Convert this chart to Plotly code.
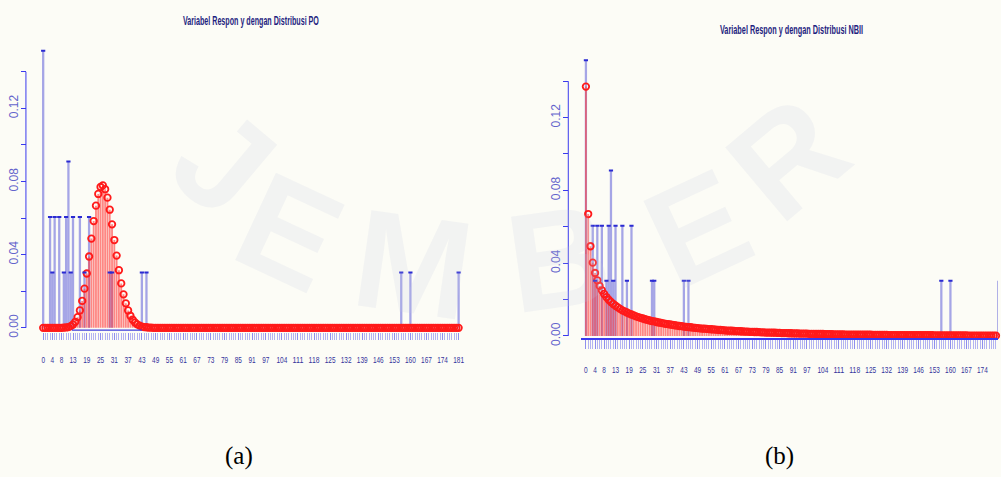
import plotly.graph_objects as go

# Support of the response variable y (counts 0..181)
support = list(range(0, 182))

# Observed relative frequencies (n = 33)
obs_values = [0, 3, 4, 5, 7, 9, 10, 11, 12, 13, 16, 18, 20, 29, 30, 43, 45, 156, 160, 181]
obs_prop = [0.1515, 0.0606, 0.0303, 0.0606, 0.0606, 0.0303, 0.0606, 0.0909, 0.0303, 0.0606,
            0.0606, 0.0303, 0.0606, 0.0303, 0.0303, 0.0303, 0.0303, 0.0303, 0.0303, 0.0303]

# Fitted Poisson (PO) probabilities for y = 0..181
fit_po = [
    0.0, 0.0, 0.0, 0.0, 0.0, 0.0, 0.0, 0.0, 0.0, 0.0001,
    0.0002, 0.0004, 0.0009, 0.0018, 0.0033, 0.0058, 0.0095, 0.0147, 0.0214, 0.0297,
    0.0390, 0.0488, 0.0584, 0.0668, 0.0732, 0.0770, 0.0779, 0.0758, 0.0712, 0.0646,
    0.0566, 0.0480, 0.0395, 0.0315, 0.0243, 0.0183, 0.0134, 0.0095, 0.0066, 0.0044,
    0.0029, 0.0019, 0.0012, 0.0007, 0.0004, 0.0003, 0.0001, 0.0001, 0.0, 0.0,
    0.0, 0.0, 0.0, 0.0, 0.0, 0.0, 0.0, 0.0, 0.0, 0.0,
    0.0, 0.0, 0.0, 0.0, 0.0, 0.0, 0.0, 0.0, 0.0, 0.0,
    0.0, 0.0, 0.0, 0.0, 0.0, 0.0, 0.0, 0.0, 0.0, 0.0,
    0.0, 0.0, 0.0, 0.0, 0.0, 0.0, 0.0, 0.0, 0.0, 0.0,
    0.0, 0.0, 0.0, 0.0, 0.0, 0.0, 0.0, 0.0, 0.0, 0.0,
    0.0, 0.0, 0.0, 0.0, 0.0, 0.0, 0.0, 0.0, 0.0, 0.0,
    0.0, 0.0, 0.0, 0.0, 0.0, 0.0, 0.0, 0.0, 0.0, 0.0,
    0.0, 0.0, 0.0, 0.0, 0.0, 0.0, 0.0, 0.0, 0.0, 0.0,
    0.0, 0.0, 0.0, 0.0, 0.0, 0.0, 0.0, 0.0, 0.0, 0.0,
    0.0, 0.0, 0.0, 0.0, 0.0, 0.0, 0.0, 0.0, 0.0, 0.0,
    0.0, 0.0, 0.0, 0.0, 0.0, 0.0, 0.0, 0.0, 0.0, 0.0,
    0.0, 0.0, 0.0, 0.0, 0.0, 0.0, 0.0, 0.0, 0.0, 0.0,
    0.0, 0.0, 0.0, 0.0, 0.0, 0.0, 0.0, 0.0, 0.0, 0.0,
    0.0, 0.0,
]

# Fitted negative binomial type II (NBII) probabilities for y = 0..181
fit_nbii = [
    0.1370, 0.0670, 0.0493, 0.0403, 0.0346, 0.0306, 0.0275, 0.0251, 0.0231, 0.0214,
    0.0199, 0.0187, 0.0176, 0.0166, 0.0157, 0.0149, 0.0141, 0.0135, 0.0129, 0.0123,
    0.0118, 0.0113, 0.0108, 0.0104, 0.0100, 0.0096, 0.0092, 0.0089, 0.0085, 0.0082,
    0.0080, 0.0077, 0.0074, 0.0072, 0.0069, 0.0067, 0.0065, 0.0063, 0.0061, 0.0059,
    0.0057, 0.0055, 0.0054, 0.0052, 0.0050, 0.0049, 0.0048, 0.0046, 0.0045, 0.0043,
    0.0042, 0.0041, 0.0040, 0.0039, 0.0038, 0.0037, 0.0036, 0.0035, 0.0034, 0.0033,
    0.0032, 0.0031, 0.0030, 0.0029, 0.0029, 0.0028, 0.0027, 0.0027, 0.0026, 0.0025,
    0.0024, 0.0024, 0.0023, 0.0023, 0.0022, 0.0022, 0.0021, 0.0020, 0.0020, 0.0019,
    0.0019, 0.0019, 0.0018, 0.0018, 0.0017, 0.0017, 0.0016, 0.0016, 0.0016, 0.0015,
    0.0015, 0.0014, 0.0014, 0.0014, 0.0013, 0.0013, 0.0013, 0.0013, 0.0012, 0.0012,
    0.0012, 0.0011, 0.0011, 0.0011, 0.0011, 0.0010, 0.0010, 0.0010, 0.0010, 0.0009,
    0.0009, 0.0009, 0.0009, 0.0009, 0.0008, 0.0008, 0.0008, 0.0008, 0.0008, 0.0007,
    0.0007, 0.0007, 0.0007, 0.0007, 0.0007, 0.0007, 0.0006, 0.0006, 0.0006, 0.0006,
    0.0006, 0.0006, 0.0006, 0.0005, 0.0005, 0.0005, 0.0005, 0.0005, 0.0005, 0.0005,
    0.0005, 0.0005, 0.0004, 0.0004, 0.0004, 0.0004, 0.0004, 0.0004, 0.0004, 0.0004,
    0.0004, 0.0004, 0.0004, 0.0003, 0.0003, 0.0003, 0.0003, 0.0003, 0.0003, 0.0003,
    0.0003, 0.0003, 0.0003, 0.0003, 0.0003, 0.0003, 0.0003, 0.0003, 0.0002, 0.0002,
    0.0002, 0.0002, 0.0002, 0.0002, 0.0002, 0.0002, 0.0002, 0.0002, 0.0002, 0.0002,
    0.0002, 0.0002,
]

# Axis labelling
x_tick_values = [0, 4, 8, 13, 19, 25, 31, 37, 43, 49, 55, 61, 67, 73, 79, 85, 91, 97,
                 104, 111, 118, 125, 132, 139, 146, 153, 160, 167, 174, 181]
y_tick_values = [0.0, 0.02, 0.04, 0.06, 0.08, 0.10, 0.12, 0.14]
y_tick_text = ["0.00", "", "0.04", "", "0.08", "", "0.12", ""]

titles = ["Variabel Respon y dengan Distribusi PO", "Variabel Respon y dengan Distribusi NBII"]
captions = ["(a)", "(b)"]
watermark_letters = ["J", "E", "M", "B", "E", "R"]

W, H = 1001, 477
BG = "#fcfcf6"
BLUE_BAR = "rgba(60,60,210,0.45)"
BLUE_CAP = "#2a2ad2"
RED_STEM = "rgba(255,55,55,0.60)"
RED_PT = "#ff1a1a"
AXIS_BLUE = "#3a3aee"
TICK_LIGHT = "rgba(105,105,235,0.50)"
LABEL_NAVY = "#34349c"
YLABEL = "#6464cc"
SANS = "Liberation Sans, Arial, sans-serif"


def fx(px):
    return px / W


def fy(py):
    return 1 - py / H


# Pixel layout of each panel
panels = [
    dict(xa="x", ya="y", fit=fit_po,
         xdom=(38.7, 464.6), xrange=(-2, 183),
         ytop=35.8, ybot=336.5, y0px=332.7, yscale=1855.7,
         yaxis_px=26.0, ticklen=7, standoff=12, xline=False,
         title_xy=(251.7, 20.7), caption_xy=(240, 463)),
    dict(xa="x2", ya="y2", fit=fit_nbii,
         xdom=(583.1, 1001.0), xrange=(-2, 180.88),
         ytop=45.4, ybot=343.5, y0px=341.0, yscale=1847.5,
         yaxis_px=570.0, ticklen=9, standoff=13, xline=True,
         title_xy=(794.3, 30.0), caption_xy=(782, 463)),
]

fig = go.Figure()
layout = dict(
    width=W, height=H,
    margin=dict(l=0, r=0, t=0, b=0),
    paper_bgcolor=BG, plot_bgcolor=BG,
    showlegend=False, barmode="overlay",
    font=dict(family=SANS),
)
shapes = []
annotations = []

for i, p in enumerate(panels):
    xa, ya = p["xa"], p["ya"]
    # observed proportions
    fig.add_trace(go.Bar(x=obs_values, y=obs_prop, width=1.0, xaxis=xa, yaxis=ya,
                         marker=dict(color=BLUE_BAR, line=dict(width=0)),
                         hoverinfo="skip"))
    # fitted probabilities as stems
    fig.add_trace(go.Bar(x=support, y=p["fit"], width=0.8, xaxis=xa, yaxis=ya,
                         marker=dict(color=RED_STEM, line=dict(width=0)),
                         hoverinfo="skip"))
    # fitted probabilities as points
    fig.add_trace(go.Scatter(x=support, y=p["fit"], mode="markers", xaxis=xa, yaxis=ya,
                             cliponaxis=False,
                             marker=dict(symbol="circle-open", size=6.5, color=RED_PT,
                                         line=dict(width=1.8, color=RED_PT)),
                             hoverinfo="skip"))
    # dark caps on top of observed bars
    fig.add_trace(go.Scatter(x=obs_values, y=obs_prop, mode="markers", xaxis=xa, yaxis=ya,
                             marker=dict(symbol="line-ew", size=3,
                                         line=dict(width=2, color=BLUE_CAP)),
                             hoverinfo="skip"))

    ymin = (p["y0px"] - p["ybot"]) / p["yscale"]
    ymax = (p["y0px"] - p["ytop"]) / p["yscale"]
    xkey = "xaxis" if i == 0 else "xaxis2"
    ykey = "yaxis" if i == 0 else "yaxis2"
    layout[xkey] = dict(
        domain=[fx(p["xdom"][0]), fx(p["xdom"][1])], range=list(p["xrange"]),
        anchor=ya, showgrid=False, zeroline=False,
        showline=p["xline"], linecolor=AXIS_BLUE, linewidth=1.5,
        tickmode="array", tickvals=x_tick_values, ticktext=[str(v) for v in x_tick_values],
        ticks="outside", ticklen=p["ticklen"], tickwidth=1, tickcolor=TICK_LIGHT,
        tickangle=0, ticklabelstandoff=p["standoff"],
        tickfont=dict(size=9.3, color=LABEL_NAVY, family=SANS),
        minor=dict(tickmode="array", tickvals=support, ticks="outside",
                   ticklen=p["ticklen"], tickwidth=1, tickcolor=TICK_LIGHT, showgrid=False),
    )
    layout[ykey] = dict(
        domain=[fy(p["ybot"]), fy(p["ytop"])], range=[ymin, ymax],
        anchor="free", position=fx(p["yaxis_px"]),
        showgrid=False, zeroline=False, showline=False,
        tickmode="array", tickvals=y_tick_values, ticktext=y_tick_text,
        ticks="outside", ticklen=5, tickwidth=1, tickcolor=AXIS_BLUE,
        tickangle=-90, tickfont=dict(size=12, color=YLABEL),
        ticklabelstandoff=-2,
    )
    # y axis line between first and last tick
    shapes.append(dict(type="line", xref="paper", yref=ya,
                       x0=fx(p["yaxis_px"]), x1=fx(p["yaxis_px"]),
                       y0=y_tick_values[0], y1=y_tick_values[-1],
                       line=dict(color=AXIS_BLUE, width=1)))
    annotations.append(dict(text=titles[i], xref="paper", yref="paper",
                            x=fx(p["title_xy"][0]), y=fy(p["title_xy"][1]),
                            xanchor="center", yanchor="middle", showarrow=False,
                            font=dict(size=13, color="#1f1f80", weight="bold")))
    annotations.append(dict(text=captions[i], xref="paper", yref="paper",
                            x=fx(p["caption_xy"][0]), y=fy(p["caption_xy"][1]),
                            xanchor="center", yanchor="middle", showarrow=False,
                            font=dict(family="Liberation Serif, Times New Roman, serif",
                                      size=25, color="#000000")))

# short baseline segment under the Poisson mass in panel (a)
shapes.append(dict(type="line", xref="x", yref="y", x0=12.5, x1=43,
                   y0=-0.00124, y1=-0.00124, line=dict(color="#3c3cd8", width=1.2)))

# faint watermark lettering across the page
wm_pos = [(225, 165, 40), (290, 235, 25), (415, 268, 8), (560, 262, -8), (700, 232, -25), (790, 160, -40)]
for letter, (px, py, ang) in zip(watermark_letters, wm_pos):
    annotations.append(dict(text=letter, xref="paper", yref="paper", x=fx(px), y=fy(py),
                            xanchor="center", yanchor="middle", showarrow=False,
                            textangle=ang,
                            font=dict(size=140, color="rgba(196,204,228,0.17)", weight="bold")))

layout["shapes"] = shapes
layout["annotations"] = annotations
fig.update_layout(**layout)

# Condense tick labels and titles horizontally to a fixed advance per character
squeeze_js = """
(function(){
  var gd = document.getElementById('{plot_id}');
  if (!gd) return;
  function fit(t, perChar){
    t.removeAttribute('textLength');
    var w = t.getComputedTextLength();
    var target = perChar * t.textContent.length;
    if (w > 0 && target < w) {
      t.setAttribute('textLength', target.toFixed(2));
      t.setAttribute('lengthAdjust', 'spacingAndGlyphs');
    }
  }
  function squeeze(){
    gd.querySelectorAll('.xtick text, .x2tick text').forEach(function(t){ fit(t, 3.6); });
    gd.querySelectorAll('.annotation-text').forEach(function(t){
      if (t.textContent.indexOf('Variabel') === 0) fit(t, 3.58);
    });
  }
  squeeze();
  if (gd.on) gd.on('plotly_afterplot', squeeze);
})();
"""

fig.write_html("out.html", post_script=squeeze_js)
